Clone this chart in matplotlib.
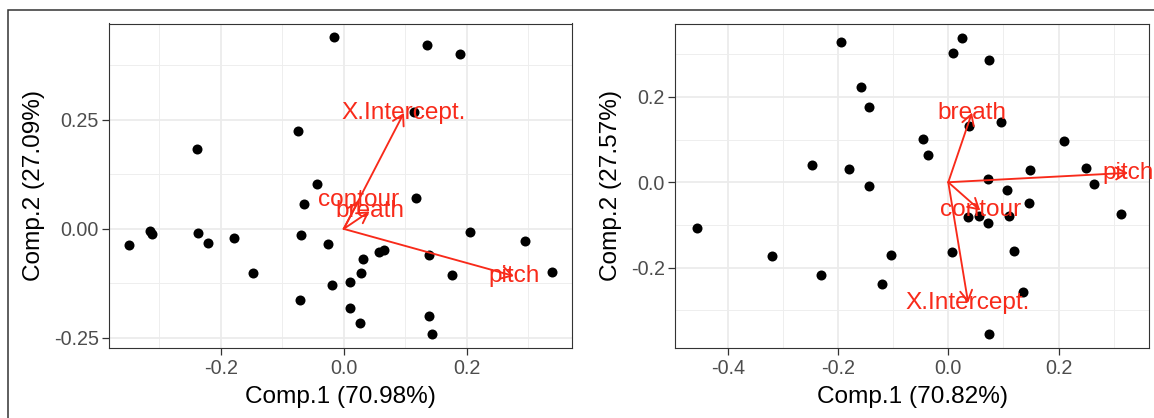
import matplotlib
matplotlib.use("Agg")
import matplotlib.pyplot as plt
from matplotlib.patches import Rectangle
from matplotlib.ticker import FixedLocator

plt.rcParams['font.family'] = ['Liberation Sans', 'DejaVu Sans']

# ---------------- data: left panel ----------------
left_x = [-0.015, 0.135, 0.190, 0.115, -0.075, -0.238, -0.044, 0.118, -0.064,
          0.205, 0.295, 0.339, -0.350, -0.315, -0.312, -0.237, -0.220, -0.178,
          -0.147, -0.069, -0.026, 0.057, 0.065, 0.032, 0.139, 0.028, 0.177,
          -0.019, 0.011, -0.071, 0.010, 0.026, 0.138, 0.144]
left_y = [0.440, 0.422, 0.400, 0.268, 0.225, 0.182, 0.104, 0.071, 0.057,
          -0.008, -0.027, -0.098, -0.038, -0.004, -0.012, -0.009, -0.032, -0.021,
          -0.101, -0.015, -0.035, -0.054, -0.048, -0.069, -0.060, -0.100, -0.105,
          -0.128, -0.121, -0.164, -0.182, -0.215, -0.200, -0.242]
left_load_names = ["X.Intercept.", "contour", "breath", "pitch"]
left_load_x = [0.098, 0.025, 0.042, 0.277]
left_load_y = [0.266, 0.066, 0.040, -0.108]
left_xlabel = "Comp.1 (70.98%)"
left_ylabel = "Comp.2 (27.09%)"
left_xticks = [-0.2, 0.0, 0.2]
left_xticklabels = ["-0.2", "0.0", "0.2"]
left_yticks = [-0.25, 0.0, 0.25]
left_yticklabels = ["-0.25", "0.00", "0.25"]
left_xminor = [-0.3, -0.1, 0.1, 0.3]
left_yminor = [-0.125, 0.125, 0.375]

# ---------------- data: right panel ----------------
right_x = [-0.194, 0.024, 0.009, 0.074, -0.158, -0.144, 0.038, 0.095, -0.046,
           -0.036, 0.210, -0.248, -0.180, -0.143, 0.072, 0.149, 0.249, 0.264,
           0.314, 0.106, 0.146, 0.035, 0.056, 0.110, 0.072, -0.455, -0.320,
           -0.231, -0.104, -0.121, 0.007, 0.119, 0.136, 0.074]
right_y = [0.328, 0.338, 0.303, 0.287, 0.224, 0.177, 0.132, 0.142, 0.102,
           0.063, 0.096, 0.040, 0.030, -0.009, 0.008, 0.028, 0.033, -0.003,
           -0.075, -0.018, -0.048, -0.082, -0.079, -0.079, -0.096, -0.107, -0.173,
           -0.217, -0.170, -0.238, -0.163, -0.162, -0.258, -0.354]
right_load_names = ["breath", "pitch", "contour", "X.Intercept."]
right_load_x = [0.043, 0.326, 0.058, 0.036]
right_load_y = [0.163, 0.022, -0.066, -0.282]
right_xlabel = "Comp.1 (70.82%)"
right_ylabel = "Comp.2 (27.57%)"
right_xticks = [-0.4, -0.2, 0.0, 0.2]
right_xticklabels = ["-0.4", "-0.2", "0.0", "0.2"]
right_yticks = [-0.2, 0.0, 0.2]
right_yticklabels = ["-0.2", "0.0", "0.2"]
right_xminor = [-0.3, -0.1, 0.1, 0.3]
right_yminor = [-0.3, -0.1, 0.1, 0.3]

W, H = 1154, 418
fig = plt.figure(figsize=(W / 100, H / 100), dpi=100)

# outer frame (cropped at right/bottom)
fig.patches.append(Rectangle((7.5 / W, -0.5), 2.0, 0.5 + (H - 9.5) / H,
                             transform=fig.transFigure, fill=False,
                             edgecolor="#333333", linewidth=1.1, zorder=0))

RED = "#F82A1A"


def panel(rect, xs, ys, names, lx, ly, xlim, ylim, xt, xtl, yt, ytl,
          xmin, ymin, xlab, ylab, xlab_x):
    ax = fig.add_axes(rect)
    ax.set_xlim(*xlim)
    ax.set_ylim(*ylim)
    ax.set_facecolor("white")
    ax.set_xticks(xt)
    ax.set_xticklabels(xtl)
    ax.set_yticks(yt)
    ax.set_yticklabels(ytl)
    ax.xaxis.set_minor_locator(FixedLocator(xmin))
    ax.yaxis.set_minor_locator(FixedLocator(ymin))
    ax.grid(which="major", color="#EBEBEB", linewidth=1.25, zorder=0)
    ax.grid(which="minor", color="#EDEDED", linewidth=0.65, zorder=0)
    ax.set_axisbelow(True)
    ax.tick_params(axis="both", which="major", length=4.7, width=0.9,
                   color="#333333", labelcolor="#4D4D4D", labelsize=14.2)
    ax.tick_params(axis="x", which="major", pad=3.0)
    ax.tick_params(axis="y", which="major", pad=2.6)
    ax.tick_params(which="minor", length=0)
    for s in ax.spines.values():
        s.set_color("#333333")
        s.set_linewidth(0.8)
    ax.scatter(xs, ys, s=52, color="black", linewidths=0, zorder=3)
    for n, x, y in zip(names, lx, ly):
        ax.annotate("", xy=(x, y), xytext=(0, 0),
                    arrowprops=dict(arrowstyle="->,head_length=0.62,head_width=0.36",
                                    color=RED, lw=1.35, shrinkA=0, shrinkB=0,
                                    mutation_scale=12),
                    zorder=4)
        ax.text(x, y, n, color=RED, fontsize=17.6, ha="center", va="center",
                zorder=5, clip_on=False)
    ax.set_xlabel(xlab, fontsize=17.6, color="black")
    ax.set_ylabel(ylab, fontsize=17.6, color="black")
    ax.xaxis.label.set_va("center")
    ax.yaxis.label.set_va("center")
    ax.xaxis.set_label_coords(0.5, -0.151)
    ax.yaxis.set_label_coords(xlab_x, 0.5)
    return ax


# left panel: px 109-572 x, 23.5-348 y
ax1 = panel([109 / W, (H - 348) / H, 463 / W, 324.5 / H],
            left_x, left_y, left_load_names, left_load_x, left_load_y,
            (-0.3819, 0.3715), (-0.273, 0.4707),
            left_xticks, left_xticklabels, left_yticks, left_yticklabels,
            left_xminor, left_yminor, left_xlabel, left_ylabel,
            (34 - 109) / 463)

# right panel: px 675-1149 x
ax2 = panel([675.2 / W, (H - 348) / H, 473.8 / W, 324.5 / H],
            right_x, right_y, right_load_names, right_load_x, right_load_y,
            (-0.4952, 0.364), (-0.3879, 0.3715),
            right_xticks, right_xticklabels, right_yticks, right_yticklabels,
            right_xminor, right_yminor, right_xlabel, right_ylabel,
            (611 - 675.2) / 473.8)

fig.savefig("out.png", dpi=100)
